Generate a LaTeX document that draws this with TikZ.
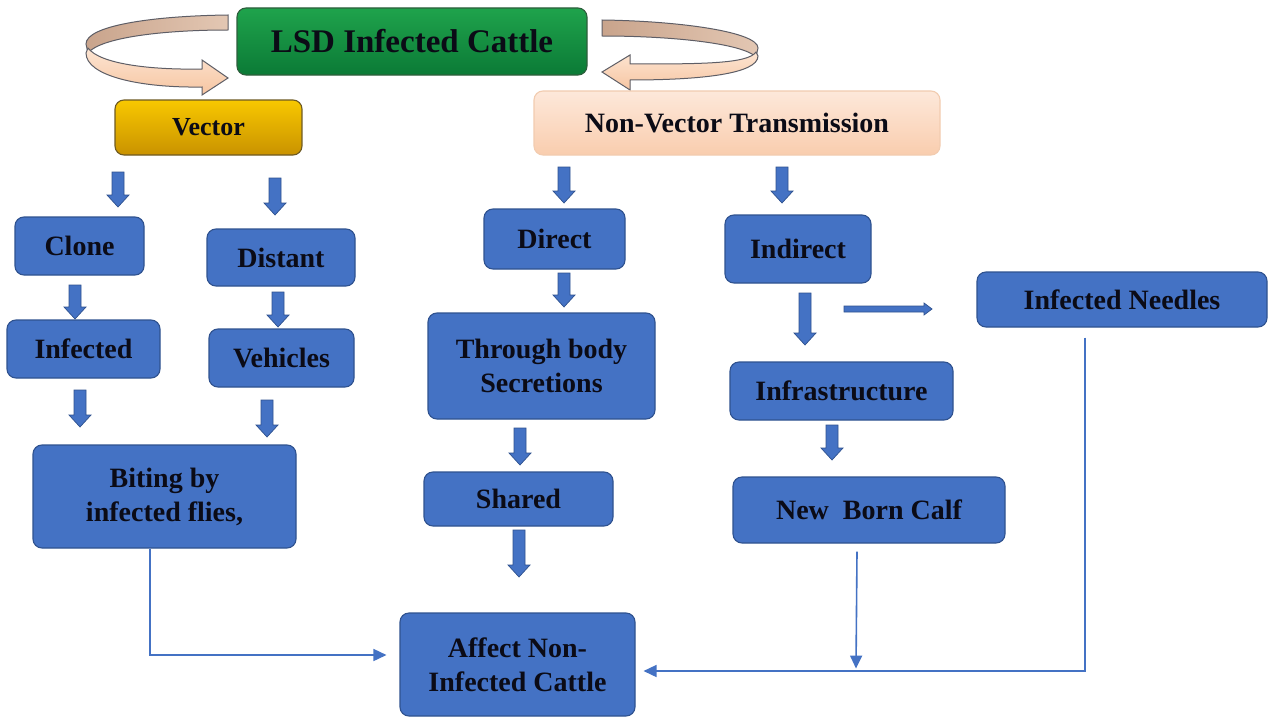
\documentclass[tikz,border=0pt]{standalone}
\usepackage{fontspec}
\setmainfont{Liberation Serif}
\usetikzlibrary{arrows.meta,calc}

\definecolor{boxblue}{HTML}{4472C4}
\definecolor{boxedge}{HTML}{2F528F}
\definecolor{txt}{HTML}{0B0B16}
\definecolor{greentop}{HTML}{1FA34C}
\definecolor{greenbot}{HTML}{0B7A36}
\definecolor{greenedge}{HTML}{2E5E3C}
\definecolor{goldtop}{HTML}{F8C800}
\definecolor{goldbot}{HTML}{C99200}
\definecolor{goldedge}{HTML}{6E5A22}
\definecolor{peachtop}{HTML}{FDE8DA}
\definecolor{peachbot}{HTML}{F9CDAE}
\definecolor{peachedge}{HTML}{F2CCB0}
\definecolor{ribbonback}{HTML}{C9A48C}
\definecolor{ribbonbackhi}{HTML}{E3C7B3}
\definecolor{ribbonfront}{HTML}{FDE5D2}
\definecolor{ribbonfrontlo}{HTML}{F6C5A2}
\definecolor{ribbonedge}{HTML}{5E5E66}

\tikzset{
  basebox/.style={rounded corners=9pt, line width=1.1pt, text=txt, align=center,
    inner sep=0pt, font=\fontsize{28}{34}\selectfont\bfseries},
  bluebox/.style={basebox, draw=boxedge, fill=boxblue},
  blockarrow/.style={fill=boxblue, draw=boxedge, line width=0.7pt, line join=miter},
  conn/.style={draw=boxblue, line width=1.6pt, -{Triangle[length=13pt,width=12pt]}},
  ribbonbackband/.style={draw=ribbonedge, line width=1pt, left color=ribbonback, right color=ribbonbackhi},
  ribbonfrontband/.style={draw=ribbonedge, line width=1pt, top color=ribbonfront, bottom color=ribbonfrontlo},
}

% downward block arrow: centre x, top y, tip y
\newcommand\blockdown[3]{%
  \draw[blockarrow] (#1-6,#2) -- (#1+6,#2) -- (#1+6,#3-12) -- (#1+11,#3-12)
    -- (#1,#3) -- (#1-11,#3-12) -- (#1-6,#3-12) -- cycle;}
% rightward block arrow: start x, tip x, centre y
\newcommand\blockright[3]{%
  \draw[blockarrow] (#1,#3-3) -- (#2-8,#3-3) -- (#2-8,#3-6) -- (#2,#3)
    -- (#2-8,#3+6) -- (#2-8,#3+3) -- (#1,#3+3) -- cycle;}

\begin{document}
\begin{tikzpicture}[x=1pt,y=-1pt]
\useasboundingbox (0,0) rectangle (1268,717);
\fill[white] (0,0) rectangle (1268,717);

% circular ribbon arrows around the top box
\draw[ribbonbackband] (228,15) .. controls (150,16) and (86,26) .. (86,44)
  -- (88,53) .. controls (100,38) and (160,30) .. (228,30) -- cycle;
\draw[ribbonfrontband] (88,48) .. controls (100,64) and (150,70) .. (202,69)
  -- (202,60) -- (228,78) -- (202,95) -- (202,87)
  .. controls (140,88) and (86,76) .. (86,53) -- cycle;

\draw[ribbonbackband] (602,20) .. controls (680,21) and (758,32) .. (758,48)
  -- (756,57) .. controls (742,43) and (670,36) .. (602,36) -- cycle;
\draw[ribbonfrontband] (756,52) .. controls (748,64) and (700,64) .. (630,64)
  -- (630,55) -- (602,72) -- (630,90) -- (630,80)
  .. controls (700,80) and (758,74) .. (758,56) -- cycle;

% top level
\node[basebox, draw=greenedge, top color=greentop, bottom color=greenbot,
  minimum width=350pt, minimum height=67pt, font=\fontsize{33}{38}\selectfont\bfseries]
  (lsd) at (412,41.5) {LSD Infected Cattle};
\node[basebox, draw=goldedge, top color=goldtop, bottom color=goldbot,
  minimum width=187pt, minimum height=55pt, font=\fontsize{26}{32}\selectfont\bfseries]
  (vector) at (208.5,127.5) {Vector};
\node[basebox, draw=peachedge, top color=peachtop, bottom color=peachbot,
  minimum width=406pt, minimum height=64pt] (nonvec) at (737,123) {Non-Vector Transmission};

% vector branch
\node[bluebox, minimum width=129pt, minimum height=58pt] (clone) at (79.5,246) {Clone};
\node[bluebox, minimum width=148pt, minimum height=57pt] (distant) at (281,257.5) {Distant};
\node[bluebox, minimum width=153pt, minimum height=58pt] (infected) at (83.5,349) {Infected};
\node[bluebox, minimum width=145pt, minimum height=58pt] (vehicles) at (281.5,358) {Vehicles};
\node[bluebox, minimum width=263pt, minimum height=103pt] (biting) at (164.5,496.5)
  {Biting by\\infected flies,};

% non-vector branch
\node[bluebox, minimum width=141pt, minimum height=60pt] (direct) at (554.5,239) {Direct};
\node[bluebox, minimum width=227pt, minimum height=106pt] (through) at (541.5,366)
  {Through body\\Secretions};
\node[bluebox, minimum width=189pt, minimum height=54pt] (shared) at (518.5,499) {Shared};
\node[bluebox, minimum width=146pt, minimum height=68pt] (indirect) at (798,249) {Indirect};
\node[bluebox, minimum width=223pt, minimum height=58pt] (infra) at (841.5,391) {Infrastructure};
\node[bluebox, minimum width=272pt, minimum height=66pt] (nbc) at (869,510) {New~~Born Calf};
\node[bluebox, minimum width=290pt, minimum height=55pt] (needles) at (1122,299.5) {Infected Needles};

% outcome
\node[bluebox, minimum width=235pt, minimum height=103pt] (affect) at (517.5,664.5)
  {Affect Non-\\Infected Cattle};

% block arrows
\blockdown{118}{172}{207}
\blockdown{275}{178}{215}
\blockdown{75}{285}{319}
\blockdown{278}{292}{327}
\blockdown{80}{390}{427}
\blockdown{267}{400}{437}
\blockdown{564}{167}{203}
\blockdown{782}{167}{203}
\blockdown{564}{273}{307}
\blockdown{805}{293}{345}
\blockdown{832}{425}{460}
\blockdown{520}{428}{465}
\blockdown{519}{530}{577}
\blockright{844}{932}{309}

% thin connectors into the outcome box
\draw[conn] ($(biting.south)+(-14.5,0)$) |- ($(affect.west)+(-13,-9.5)$);
\draw[conn] ($(nbc.south)+(-12,8)$) -- ++(-1,117);
\draw[conn] ($(needles.south)+(-37,10)$) |- ($(affect.east)+(8,6.5)$);
\end{tikzpicture}
\end{document}
